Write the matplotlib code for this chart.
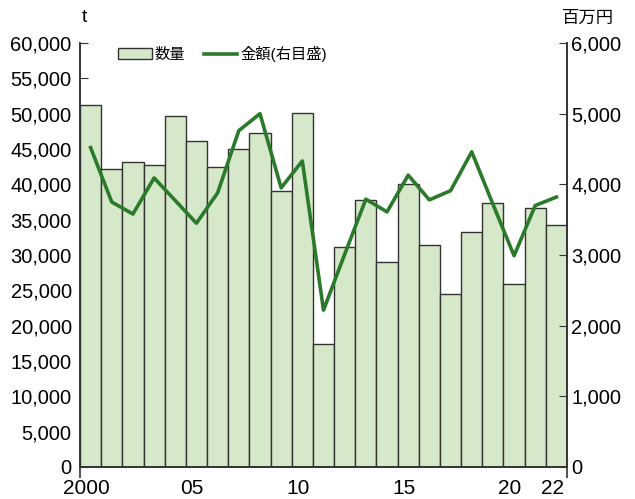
import numpy as np
import matplotlib
matplotlib.use('Agg')
import matplotlib.pyplot as plt
from matplotlib.ticker import FuncFormatter

plt.rcParams['font.family'] = ['Liberation Sans', 'Noto Sans CJK JP']

# data
years = list(range(2000, 2023))
quantity = [51200, 42100, 43200, 42700, 49600, 46200, 42400, 45000, 47300, 39100,
            50100, 17400, 31200, 37800, 29000, 40000, 31400, 24500, 33300, 37400,
            25900, 36600, 34200]
amount = [4520, 3750, 3580, 4090, 3770, 3450, 3880, 4760, 5000, 3950,
          4330, 2220, 3010, 3790, 3610, 4130, 3780, 3910, 4460, 3720,
          2990, 3700, 3820]
xlabels = ['2000', '05', '10', '15', '20', '22']
xlabel_years = [2000, 2005, 2010, 2015, 2020, 2022]

bar_color = '#d5e8c9'
line_color = '#2b7a2b'

fig = plt.figure(figsize=(6.35, 4.99), dpi=100)
ax = fig.add_axes([80/635, 32/499, 487/635, 424/499])
ax2 = ax.twinx()

x = np.arange(len(years))
ax.bar(x, quantity, width=1.0, color=bar_color, edgecolor='#333333', linewidth=1.0,
       label='数量', zorder=2)
ax2.plot(x, amount, color=line_color, linewidth=2.6, label='金額(右目盛)', zorder=3)

ax.set_xlim(-0.5, len(years) - 0.5)
ax.set_ylim(0, 60000)
ax2.set_ylim(0, 6000)
ax.set_yticks(np.arange(0, 60001, 5000))
ax2.set_yticks(np.arange(0, 6001, 1000))
fmt = FuncFormatter(lambda v, p: f'{int(v):,}')
ax.yaxis.set_major_formatter(fmt)
ax2.yaxis.set_major_formatter(fmt)

ax.set_xticks([y - 2000 - 0.2 for y in xlabel_years])
ax.set_xticklabels(xlabels)
ax.set_xticks([-0.5, len(years) - 0.5], minor=True)
ax.tick_params(axis='x', which='major', length=0, pad=9, labelsize=15)
ax.tick_params(axis='x', which='minor', length=8, direction='out', width=1.2, color='#333333')
ax.tick_params(axis='y', direction='in', length=6, labelsize=14.5, color='#333333', pad=6)
ax2.tick_params(axis='y', direction='in', length=6, labelsize=14.5, color='#333333', pad=3)

for a in (ax, ax2):
    a.spines['top'].set_visible(False)
    for s in ('left', 'right', 'bottom'):
        a.spines[s].set_color('#333333')
        a.spines[s].set_linewidth(1.2)

fig.text(84/635, 1 - 18/499, 't', fontsize=14, ha='center', va='center')
fig.text(588/635, 1 - 18/499, '百万円', fontsize=12.5, ha='center', va='center')

h1, l1 = ax.get_legend_handles_labels()
h2, l2 = ax2.get_legend_handles_labels()
leg = ax2.legend(h1 + h2, l1 + l2, loc='upper left', bbox_to_anchor=(0.05, 1.025),
                 ncol=2, frameon=False, fontsize=11, handlelength=2.2,
                 handletextpad=0.2, columnspacing=1.2)

fig.savefig('out.png', dpi=100)
